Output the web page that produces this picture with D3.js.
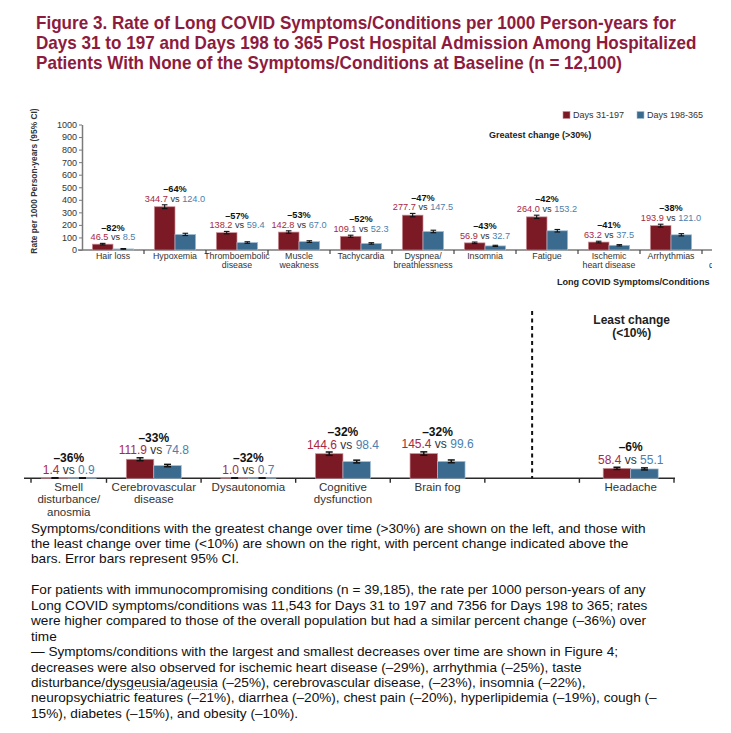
<!DOCTYPE html>
<html><head><meta charset="utf-8">
<script src="https://cdn.jsdelivr.net/npm/d3@7"></script>
<style>
body{margin:0;background:#fff;}
svg{display:block;font-family:"Liberation Sans",Arial,Helvetica,sans-serif;}
</style>
</head><body>
<svg id="chart" width="731" height="733"></svg>
<script>
// ---------------- DATA ----------------
const titleLines = [
  "Figure 3. Rate of Long COVID Symptoms/Conditions per 1000 Person-years for",
  "Days 31 to 197 and Days 198 to 365 Post Hospital Admission Among Hospitalized",
  "Patients With None of the Symptoms/Conditions at Baseline (n = 12,100)"
];
const seriesNames = ["Days 31-197", "Days 198-365"];
const yTickValues = [0,100,200,300,400,500,600,700,800,900,1000];

const topCategories = ["Hair loss","Hypoxemia","Thromboembolic\ndisease","Muscle\nweakness","Tachycardia",
  "Dyspnea/\nbreathlessness","Insomnia","Fatigue","Ischemic\nheart disease","Arrhythmias"];
const topCutCategory = "\ndisturbance/";   // next category, cut off at the right edge of the panel
const topEarly   = [46.5, 344.7, 138.2, 142.8, 109.1, 277.7, 56.9, 264.0, 63.2, 193.9];
const topEarlyLo = [40.7, 329.7, 128.8, 133.3, 100.8, 264.4, 50.9, 251.1, 56.9, 182.8];
const topEarlyHi = [52.9, 360.2, 148.1, 152.8, 117.9, 291.5, 63.4, 277.4, 70.0, 205.5];
const topLate    = [8.5, 124.0, 59.4, 67.0, 52.3, 147.5, 32.7, 153.2, 37.5, 121.0];
const topLateLo  = [6.0, 115.1, 53.5, 60.7, 46.8, 137.8, 28.2, 143.3, 32.7, 112.2];
const topLateHi  = [11.7, 133.4, 65.8, 73.8, 58.3, 157.7, 37.7, 163.6, 42.8, 130.3];
const topPct     = ["–82%","–64%","–57%","–53%","–52%","–47%","–43%","–42%","–41%","–38%"];

const lowCategories = ["Smell\ndisturbance/\nanosmia","Cerebrovascular\ndisease","Dysautonomia",
  "Cognitive\ndysfunction","Brain fog","Headache"];
const lowSlots    = [0, 1, 2, 3, 4, 6];   // slot 5 is the gap with the dashed divider
const lowEarly    = [1.4, 111.9, 1.0, 144.6, 145.4, 58.4];
const lowEarlyLo  = [0.6, 103.6, 0.4, 135.0, 135.8, 52.3];
const lowEarlyHi  = [2.8, 120.7, 2.2, 154.7, 155.5, 65.0];
const lowLate     = [0.9, 74.8, 0.7, 98.4, 99.6, 55.1];
const lowLateLo   = [0.3, 68.1, 0.2, 90.6, 91.7, 49.3];
const lowLateHi   = [2.1, 81.9, 1.8, 106.7, 107.9, 61.4];
const lowPct      = ["–36%","–33%","–32%","–32%","–32%","–6%"];

const notesLines = [
  "Symptoms/conditions with the greatest change over time (>30%) are shown on the left, and those with",
  "the least change over time (<10%) are shown on the right, with percent change indicated above the",
  "bars. Error bars represent 95% CI.",
  "",
  "For patients with immunocompromising conditions (n = 39,185), the rate per 1000 person-years of any",
  "Long COVID symptoms/conditions was 11,543 for Days 31 to 197 and 7356 for Days 198 to 365; rates",
  "were higher compared to those of the overall population but had a similar percent change (–36%) over",
  "time",
  "— Symptoms/conditions with the largest and smallest decreases over time are shown in Figure 4;",
  "decreases were also observed for ischemic heart disease (–29%), arrhythmia (–25%), taste",
  "disturbance/dysgeusia/ageusia (–25%), cerebrovascular disease, (–23%), insomnia (–22%),",
  "neuropsychiatric features (–21%), diarrhea (–20%), chest pain (–20%), hyperlipidemia (–19%), cough (–",
  "15%), diabetes (–15%), and obesity (–10%)."
];
const spellMarked = ["dysgeusia", "ageusia"];   // words shown with a spell-check underline

// ---------------- STYLE ----------------
const C = {
  title: "#8e1b3d", barRed: "#7b1a25", barBlue: "#3a6a8e",
  strokeRed: "#c99098", strokeBlue: "#a4c0d6",
  txtRed: "#a8283f", txtBlue: "#4b80ae", txt: "#333", axisTop: "#7a7a7a", axisLow: "#2a2a2a"
};

const svg = d3.select("#chart");
svg.append("rect").attr("width",731).attr("height",733).attr("fill","#fff");

// ---------------- TITLE ----------------
const tg = svg.append("g");
const tLines = tg.selectAll("text").data(titleLines).join("text")
  .attr("x",0).attr("y",0)
  .attr("font-size",18).attr("font-weight","bold").attr("fill",C.title)
  .text(d=>d);
const tW = tLines.nodes()[0].getComputedTextLength();
const tScale = 640 / tW;
tLines.attr("transform",(d,i)=>`translate(36,${28.5 + i*20}) scale(${tScale},1)`);

// ---------------- TOP CHART ----------------
const xTop = d3.scaleBand().domain([...topCategories, topCutCategory]).range([82, 82 + 62*11]);
const yTop = d3.scaleLinear().domain([0,1000]).range([250, 124.5]);
const bwTop = xTop.bandwidth()/3;

svg.append("defs").append("clipPath").attr("id","clipTop")
  .append("rect").attr("x",0).attr("y",90).attr("width",712).attr("height",200);

const topG = svg.append("g").attr("clip-path","url(#clipTop)");

const yAx = svg.append("g").attr("transform","translate(82,0)")
  .call(d3.axisLeft(yTop).tickValues(yTickValues).tickSize(3).tickSizeOuter(0).tickPadding(2).tickFormat(d3.format("d")));
yAx.select(".domain").attr("stroke",C.axisTop).attr("stroke-width",1.5);
yAx.selectAll(".tick line").attr("stroke",C.axisTop).attr("stroke-width",1);
yAx.selectAll(".tick text").attr("font-size",9).attr("fill",C.txt).attr("font-family","Liberation Sans, Arial, sans-serif");

svg.append("text").attr("transform","translate(37,181) rotate(-90)")
  .attr("text-anchor","middle").attr("font-size",8.4).attr("font-weight","bold").attr("fill","#333")
  .text("Rate per 1000 Person-years (95% CI)");

topG.append("line").attr("x1",78).attr("x2",712).attr("y1",yTop(0)).attr("y2",yTop(0))
  .attr("stroke",C.axisTop).attr("stroke-width",1.5);
topG.selectAll("line.xt").data(xTop.domain().slice(1)).join("line").attr("class","xt")
  .attr("x1",d=>xTop(d)).attr("x2",d=>xTop(d)).attr("y1",yTop(0)).attr("y2",yTop(0)+4)
  .attr("stroke","#444").attr("stroke-width",1.2);

topG.selectAll("text.cat").data(xTop.domain()).join("text").attr("class","cat")
  .attr("text-anchor","middle").attr("font-size",8.8).attr("fill",C.txt)
  .each(function(d){
    const cx = xTop(d) + xTop.bandwidth()/2;
    d.split("\n").forEach((ln,j)=>{
      if (ln) d3.select(this).append("tspan").attr("x",cx).attr("y",259 + j*8.8).text(ln);
    });
  });

function drawGroup(g, cats, xPos, bw, y, early, eLo, eHi, late, lLo, lHi, pct, opt){
  const idx = d3.range(cats.length);
  g.selectAll("rect.r"+opt.k).data(idx).join("rect").attr("class","r"+opt.k)
    .attr("x",i=>xPos(i)-bw).attr("width",bw)
    .attr("y",i=>y(early[i])).attr("height",i=>y(0)-y(early[i]))
    .attr("fill",C.barRed).attr("stroke",C.strokeRed).attr("stroke-width",0.7);
  g.selectAll("rect.b"+opt.k).data(idx).join("rect").attr("class","b"+opt.k)
    .attr("x",i=>xPos(i)).attr("width",bw)
    .attr("y",i=>y(late[i])).attr("height",i=>y(0)-y(late[i]))
    .attr("fill",C.barBlue).attr("stroke",C.strokeBlue).attr("stroke-width",0.7);
  const errs = [];
  idx.forEach(i=>{
    errs.push({cx: xPos(i)-bw/2, lo: eLo[i], hi: eHi[i]});
    errs.push({cx: xPos(i)+bw/2, lo: lLo[i], hi: lHi[i]});
  });
  const eg = g.append("g").attr("stroke","#111").attr("stroke-width",opt.ew);
  errs.forEach(e=>{
    eg.append("line").attr("x1",e.cx).attr("x2",e.cx).attr("y1",y(e.lo)).attr("y2",y(e.hi));
    eg.append("line").attr("x1",e.cx-opt.cap).attr("x2",e.cx+opt.cap).attr("y1",y(e.lo)).attr("y2",y(e.lo));
    eg.append("line").attr("x1",e.cx-opt.cap).attr("x2",e.cx+opt.cap).attr("y1",y(e.hi)).attr("y2",y(e.hi));
  });
  idx.forEach(i=>{
    const base = y(Math.max(eHi[i], lHi[i])) - opt.gap;
    const t = g.append("text").attr("x",xPos(i)).attr("y",base).attr("text-anchor","middle")
      .attr("font-size",opt.fs);
    t.append("tspan").attr("fill",C.txtRed).text(early[i].toFixed(1));
    t.append("tspan").attr("fill",C.txt).text(" vs ");
    t.append("tspan").attr("fill",C.txtBlue).text(late[i].toFixed(1));
    g.append("text").attr("x",xPos(i)).attr("y",base - opt.pgap).attr("text-anchor","middle")
      .attr("font-size",opt.fs).attr("font-weight","bold").attr("fill","#111").text(pct[i]);
  });
}

drawGroup(topG, topCategories, i=>xTop(topCategories[i]) + xTop.bandwidth()/2, bwTop, yTop,
  topEarly, topEarlyLo, topEarlyHi, topLate, topLateLo, topLateHi, topPct,
  {k:"t", ew:1.1, cap:2.8, gap:3, pgap:9.8, fs:9.2});

const lg = svg.append("g");
seriesNames.forEach((s,i)=>{
  const lx = [563, 637][i];
  lg.append("rect").attr("x",lx).attr("y",111.5).attr("width",7).attr("height",7)
    .attr("fill",i? C.barBlue : C.barRed).attr("stroke",i? C.strokeBlue : C.strokeRed).attr("stroke-width",0.6);
  lg.append("text").attr("x",lx+10).attr("y",118.3).attr("font-size",9).attr("fill",C.txt).text(s);
});
svg.append("text").attr("x",489).attr("y",138.2).attr("font-size",9).attr("font-weight","bold")
  .attr("fill","#222").text("Greatest change (>30%)");
svg.append("text").attr("x",709.5).attr("y",285).attr("text-anchor","end").attr("font-size",9.1)
  .attr("font-weight","bold").attr("fill","#222").text("Long COVID Symptoms/Conditions");

// ---------------- LOWER CHART ----------------
const xLowB = d3.scaleLinear().domain([0,1,7]).range([31,106.5,674]);
const slotCenter = s => (xLowB(s) + xLowB(s+1))/2;
const yLow = d3.scaleLinear().domain([0,1000]).range([478.3, 308.3]);
const bwLow = 27.5;
const low = svg.append("g");

low.append("line").attr("x1",24).attr("x2",675).attr("y1",yLow(0)).attr("y2",yLow(0))
  .attr("stroke",C.axisLow).attr("stroke-width",1.6);
low.selectAll("line.lt").data(d3.range(8)).join("line").attr("class","lt")
  .attr("x1",d=>xLowB(d)).attr("x2",d=>xLowB(d)).attr("y1",yLow(0)).attr("y2",yLow(0)+4.5)
  .attr("stroke",C.axisLow).attr("stroke-width",1.4);

low.selectAll("text.cat").data(lowCategories).join("text").attr("class","cat")
  .attr("text-anchor","middle").attr("font-size",11.5).attr("fill",C.txt)
  .each(function(d,i){
    const cx = slotCenter(lowSlots[i]) + (lowSlots[i]===6 ? 4 : 0);
    d.split("\n").forEach((ln,j)=>{
      d3.select(this).append("tspan").attr("x",cx).attr("y",491 + j*12.4).text(ln);
    });
  });

drawGroup(low, lowCategories, i=>slotCenter(lowSlots[i]) + (lowSlots[i]===6 ? 4 : 0), bwLow, yLow,
  lowEarly, lowEarlyLo, lowEarlyHi, lowLate, lowLateLo, lowLateHi, lowPct,
  {k:"l", ew:1.5, cap:3.5, gap:3.5, pgap:12.4, fs:12});

low.append("line").attr("x1",slotCenter(5)).attr("x2",slotCenter(5)).attr("y1",311).attr("y2",yLow(0))
  .attr("stroke","#111").attr("stroke-width",2).attr("stroke-dasharray","4,3.5");

const lcx = slotCenter(6) + 5;
low.append("text").attr("x",lcx).attr("y",323.5).attr("text-anchor","middle").attr("font-size",12)
  .attr("font-weight","bold").attr("fill","#222").text("Least change");
low.append("text").attr("x",lcx).attr("y",336.5).attr("text-anchor","middle").attr("font-size",12)
  .attr("font-weight","bold").attr("fill","#222").text("(<10%)");

// ---------------- NOTES ----------------
const ng = svg.append("g");
const nl = ng.selectAll("text").data(notesLines).join("text")
  .attr("x",31).attr("y",(d,i)=>532.5 + i*15.45).attr("font-size",13).attr("fill","#111").text(d=>d);
const nW = nl.nodes()[0].getComputedTextLength();
nl.attr("font-size", 13*615/nW);

// spell-check style dotted underline under marked words
nl.each(function(d,i){
  spellMarked.forEach(w=>{
    const k = d.indexOf(w);
    if (k < 0) return;
    const x0 = 31 + this.getSubStringLength(0, k);
    const wl = this.getSubStringLength(k, w.length);
    const yb = 532.5 + i*15.45 + 2.5;
    ng.append("line").attr("x1",x0).attr("x2",x0+wl).attr("y1",yb).attr("y2",yb)
      .attr("stroke","#e0505a").attr("stroke-width",1).attr("stroke-dasharray","1,1");
  });
});
</script>
</body></html>
